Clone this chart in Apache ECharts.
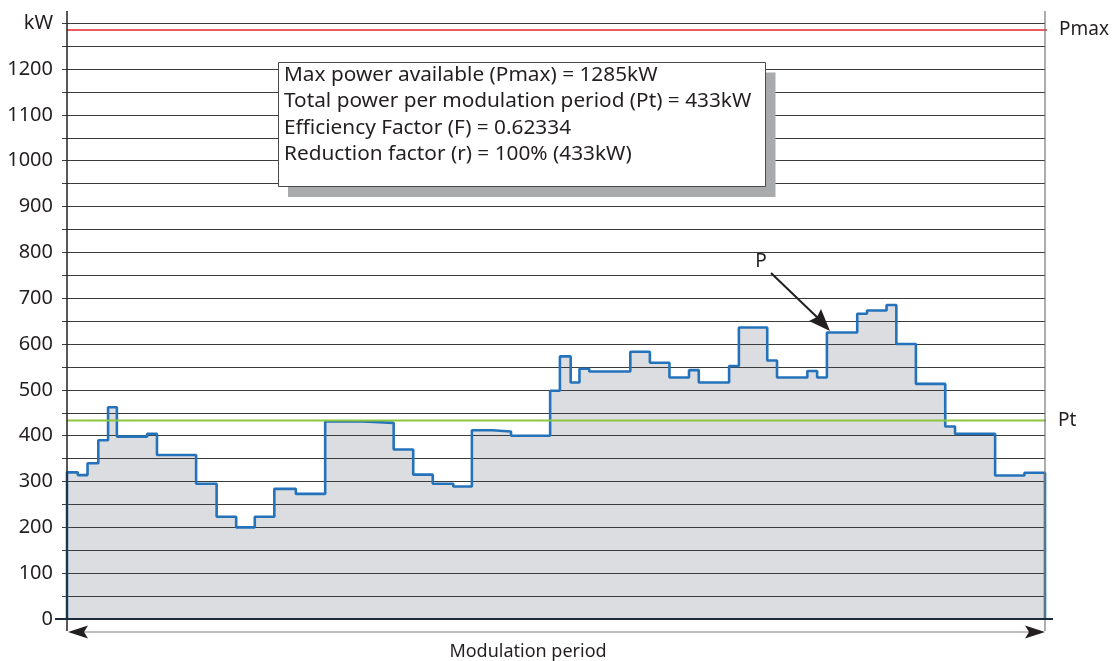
<!DOCTYPE html>
<html>
<head>
<meta charset="utf-8">
<script src="https://cdn.jsdelivr.net/npm/echarts@6/dist/echarts.min.js"></script>
<style>
  html, body { margin: 0; padding: 0; background: #fff; }
  #chart { width: 1114px; height: 661px; }
</style>
</head>
<body>
<div id="chart"></div>
<script>
// Power demand over one modulation period (x in % of the period, y in kW)
const stepStarts = [0, 1.1, 2.1, 3.2, 4.2, 5.1, 8.2, 9.2, 13.2, 15.3, 17.3, 19.2, 21.2, 23.4, 26.4,
  30.3, 33.4, 35.4, 37.4, 39.5, 41.4, 43.5, 45.4, 49.4, 50.4, 51.5, 52.4, 53.4, 57.6, 59.6,
  61.6, 63.6, 64.6, 67.7, 68.7, 71.6, 72.6, 75.7, 76.7, 77.7, 80.8, 81.8, 83.8, 84.8, 86.8,
  89.8, 90.8, 94.9, 97.9];
const powerKW = [320, 314, 340, 390, 462, 398, 404, 358, 295, 223, 200, 223, 284, 273, 431,
  428, 370, 315, 295, 289, 412, 409, 400, 498, 573, 516, 546, 540, 583, 559,
  527, 543, 516, 552, 636, 564, 527, 541, 527, 625, 666, 673, 685, 600, 513,
  420, 404, 313, 319];
const periodEnd = 100;
const pmax = 1285;
const pt = 433;
const yTicks = { min: 0, max: 1300, step: 50, unitLabel: 'kW' };
const infoLines = [
  'Max power available (Pmax) = 1285kW',
  'Total power per modulation period (Pt) = 433kW',
  'Efficiency Factor (F) = 0.62334',
  'Reduction factor (r) = 100% (433kW)'
];

const FONT = '"Noto Sans", sans-serif';
const INK = '#231f20';

// step profile closed down to zero at both ends
const profile = [[stepStarts[0], 0]];
stepStarts.forEach((x, i) => profile.push([x, powerKW[i]]));
profile.push([periodEnd, powerKW[powerKW.length - 1]]);
profile.push([periodEnd, 0]);

const G = { left: 67, right: 69, top: 23.2, bottom: 42 };
const X0 = G.left, X1 = 1114 - G.right, Y0 = 661 - G.bottom;

const chart = echarts.init(document.getElementById('chart'));
chart.setOption({
  animation: false,
  backgroundColor: '#fff',
  grid: G,
  xAxis: {
    type: 'value', min: 0, max: periodEnd,
    axisLine: { show: false },
    axisTick: { show: false }, axisLabel: { show: false }, splitLine: { show: false }
  },
  yAxis: {
    type: 'value', min: yTicks.min, max: yTicks.max, interval: yTicks.step,
    z: 3,
    axisLine: { show: false },
    axisTick: { show: true, length: 5, lineStyle: { color: '#3c3c3c', width: 1 } },
    splitLine: { show: true, lineStyle: { color: '#3c3c3c', width: 1 } },
    axisLabel: {
      margin: 14, color: INK, fontFamily: FONT, fontSize: 20,
      formatter: v => v === yTicks.max ? yTicks.unitLabel : (v % 100 === 0 ? String(v) : '')
    }
  },
  series: [
    {
      // filled area under the profile, gridlines drawn above it
      type: 'line', step: 'end', data: profile, symbol: 'none', z: 1,
      lineStyle: { width: 0, opacity: 0 },
      areaStyle: { color: '#dcdde0', opacity: 1 }
    },
    {
      // profile outline
      type: 'line', step: 'end', data: profile, symbol: 'none', z: 5,
      lineStyle: { color: '#2473ba', width: 2.6 }
    },
    {
      name: 'Pmax', type: 'line', data: [[0, pmax], [101.2, pmax]], symbol: 'none', clip: false, z: 6,
      lineStyle: { color: '#e4262b', width: 1.5 },
      endLabel: { show: true, formatter: 'Pmax', color: INK, fontFamily: FONT, fontSize: 19, distance: 12 }
    },
    {
      name: 'Pt', type: 'line', data: [[0, pt], [101.2, pt]], symbol: 'none', clip: false, z: 6,
      lineStyle: { color: '#8cc63f', width: 2 },
      endLabel: { show: true, formatter: 'Pt', color: INK, fontFamily: FONT, fontSize: 19, distance: 12 }
    }
  ],
  graphic: [
    // frame lines
    { type: 'line', shape: { x1: X0, y1: 11, x2: X0, y2: 631 }, style: { stroke: INK, lineWidth: 1.5 }, z: 10 },
    { type: 'line', shape: { x1: X1, y1: 11, x2: X1, y2: 631 }, style: { stroke: '#777', lineWidth: 1.2 }, z: 10 },
    { type: 'line', shape: { x1: 55, y1: Y0, x2: 1053, y2: Y0 }, style: { stroke: '#1d2a3a', lineWidth: 1.8 }, z: 10 },
    // modulation period arrow
    { type: 'line', shape: { x1: X0 + 10, y1: 632, x2: X1 - 10, y2: 632 }, style: { stroke: '#808080', lineWidth: 1.2 }, z: 10 },
    { type: 'polygon', shape: { points: [[X0 + 1, 632], [X0 + 21, 625.5], [X0 + 17, 632], [X0 + 21, 638.5]] }, style: { fill: INK }, z: 11 },
    { type: 'polygon', shape: { points: [[X1, 632], [X1 - 20, 625.5], [X1 - 16, 632], [X1 - 20, 638.5]] }, style: { fill: INK }, z: 11 },
    { type: 'text', x: 528, y: 652, style: { text: 'Modulation period', fill: INK, font: '18px ' + FONT, align: 'center', verticalAlign: 'middle' }, z: 11 },
    // info box with drop shadow
    { type: 'rect', shape: { x: 288, y: 72.5, width: 487.5, height: 124.5 }, style: { fill: '#a9aaac' }, z: 20 },
    { type: 'rect', shape: { x: 278.5, y: 62.5, width: 487, height: 124 }, style: { fill: '#fff', stroke: '#4a4a4a', lineWidth: 1 }, z: 21 },
    ...infoLines.map((t, i) => ({
      type: 'text', x: 284, y: 75 + i * 26.5,
      style: { text: t, fill: INK, font: '20.8px ' + FONT, verticalAlign: 'middle' }, z: 22
    })),
    // P callout
    { type: 'text', x: 761, y: 262, style: { text: 'P', fill: INK, font: '19px ' + FONT, align: 'center', verticalAlign: 'middle' }, z: 22 },
    { type: 'line', shape: { x1: 771, y1: 273, x2: 820, y2: 320 }, style: { stroke: INK, lineWidth: 2 }, z: 22 },
    { type: 'polygon', shape: { points: [[830, 331], [809, 321], [817, 317], [821, 309]] }, style: { fill: INK }, z: 22 }
  ]
});
</script>
</body>
</html>
